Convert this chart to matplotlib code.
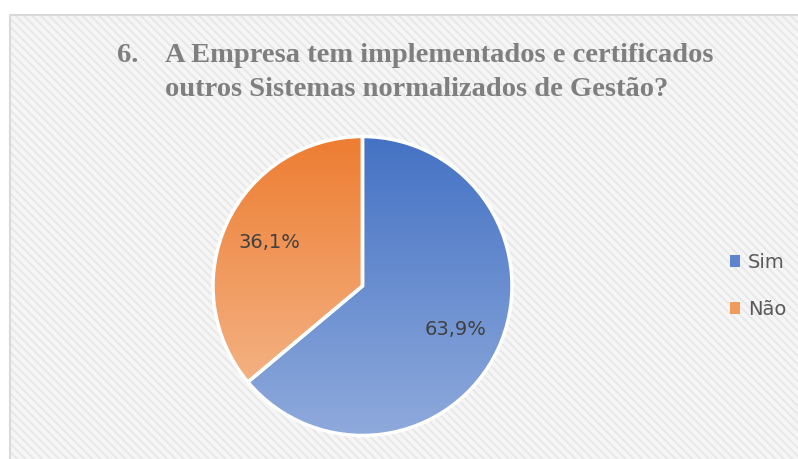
import numpy as np
import matplotlib.pyplot as plt
from matplotlib.patches import Rectangle, Patch
from matplotlib.colors import LinearSegmentedColormap

W, H = 798, 459

categories = ['Sim', 'Não']
values = [63.9, 36.1]
top_colors = ['#4472C4', '#ED7D31']
bottom_colors = ['#8FAADC', '#F4B183']
legend_colors = ['#5F84CE', '#F09A5C']
title1_num = '6.'
title1 = 'A Empresa tem implementados e certificados'
title2 = 'outros Sistemas normalizados de Gestão?'


def px(x, y):
    return x / W, 1 - y / H


plt.rcParams['hatch.color'] = '#e6e6e6'
plt.rcParams['hatch.linewidth'] = 1.2

fig = plt.figure(figsize=(W / 100, H / 100), dpi=100)
fig.patch.set_facecolor('white')

# patterned chart area background
bg = Rectangle(px(10, 459), (W - 10) / W, (459 - 15) / H, transform=fig.transFigure,
               facecolor='#f5f5f5', lw=0, hatch='\\\\\\\\', zorder=-2)
fig.patches.append(bg)
fig.lines.append(plt.Line2D([10 / W, 10 / W, 1], [0, 1 - 15 / H, 1 - 15 / H],
                            transform=fig.transFigure, color='#d9d9d9', lw=1.5, zorder=-1))

# title
tc = '#7f7f7f'
tf = dict(family='Liberation Serif', weight='bold', size=20.5, color=tc, va='baseline')
fig.text(*px(117, 62), title1_num, **tf)
fig.text(*px(165, 62), title1, **tf)
fig.text(*px(165, 96), title2, **tf)

# pie
r = 151
cx, cy = 362.5, 286
ax = fig.add_axes([(cx - r) / W, (H - cy - r) / H, 2 * r / W, 2 * r / H])
wedges, texts, autotexts = ax.pie(
    values, startangle=90, counterclock=False, radius=1,
    autopct=lambda p: f'{p:.1f}%'.replace('.', ','), pctdistance=0.69,
    wedgeprops=dict(edgecolor='white', linewidth=2.5, facecolor='none'),
    textprops=dict(color='#404040', fontsize=14))

grad = np.linspace(0, 1, 256).reshape(-1, 1)
for w, c0, c1 in zip(wedges, top_colors, bottom_colors):
    w.set_zorder(3)
    w.set_facecolor('none')
    bb = w.get_path().get_extents()
    cmap = LinearSegmentedColormap.from_list('g', [c0, c1])
    im = ax.imshow(grad, cmap=cmap, extent=[bb.x0, bb.x1, bb.y0, bb.y1],
                   aspect='auto', zorder=2, origin='upper')
    im.set_clip_path(w)
for t in autotexts:
    t.set_zorder(5)

ax.set_xlim(-1.01, 1.01)
ax.set_ylim(-1.01, 1.01)
ax.set_aspect('equal')
ax.axis('off')

handles = [Patch(facecolor=c, edgecolor='none') for c in legend_colors]
fig.legend(handles, categories, loc='center left', bbox_to_anchor=px(712, 286),
           frameon=False, fontsize=14, labelcolor='#595959',
           handlelength=0.55, handleheight=0.55, handletextpad=0.4, labelspacing=1.45)

fig.savefig('out.png', dpi=100, facecolor='white')
